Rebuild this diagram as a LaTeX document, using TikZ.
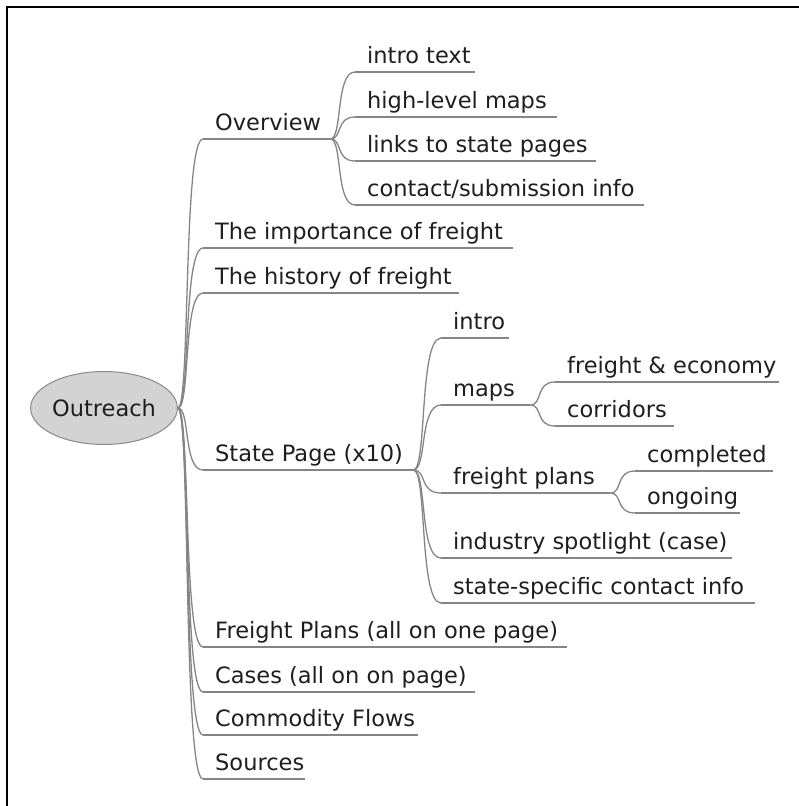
\documentclass[tikz,border=0pt]{standalone}
\usepackage{fontspec}
\setmainfont{DejaVu Sans}
\usetikzlibrary{calc,shapes.geometric}
\definecolor{edgegray}{HTML}{858585}
\definecolor{rootfill}{HTML}{D3D3D3}
\definecolor{rootline}{HTML}{8A8A8A}
\definecolor{txt}{HTML}{1E1E1E}
\newcommand{\mmbox}[2]{\makebox[#1pt][l]{\hspace*{12pt}#2}}
\newcommand{\mmlink}[2]{\draw[edge] let \p1=(#1), \p2=(#2) in (\p1) .. controls ({\x1+0.5*(\x2-\x1)},\y1) and ({\x1+0.2*(\x2-\x1)},\y2) .. (\p2);}
\begin{document}
\begin{tikzpicture}[x=1pt,y=-1pt,
  every node/.style={font=\fontsize{22.5}{27}\selectfont, text=txt},
  item/.style={anchor=south west, inner sep=0pt, text depth=8pt},
  edge/.style={draw=edgegray, line width=1.3pt},
  uline/.style={draw=edgegray, line width=1.3pt},
  rootnode/.style={ellipse, draw=rootline, fill=rootfill, line width=1pt, minimum width=130pt, minimum height=73pt, inner sep=0pt}]
\useasboundingbox (0,0) rectangle (799,806);
\draw[line width=2.2pt, black] (7,806) -- (7,7) -- (799,7);

\node[rootnode] (root) at (104,408) {Outreach};

% level 1
\node[item] (ov)    at (203,139) {\mmbox{127}{Overview}};
\node[item] (imp)   at (203,248) {\mmbox{310}{The importance of freight}};
\node[item] (hist)  at (203,293) {\mmbox{256}{The history of freight}};
\node[item] (sp)    at (203,470) {\mmbox{210}{State Page (x10)}};
\node[item] (fp)    at (203,647) {\mmbox{364}{Freight Plans (all on one page)}};
\node[item] (cases) at (203,692) {\mmbox{272}{Cases (all on on page)}};
\node[item] (cf)    at (203,735) {\mmbox{215}{Commodity Flows}};
\node[item] (src)   at (203,779) {\mmbox{102}{Sources}};

% overview children
\node[item] (ovA) at (355,72)  {\mmbox{120}{intro text}};
\node[item] (ovB) at (355,117) {\mmbox{202}{high-level maps}};
\node[item] (ovC) at (355,161) {\mmbox{241}{links to state pages}};
\node[item] (ovD) at (355,205) {\mmbox{289}{contact/submission info}};

% state page children
\node[item] (spA) at (441,338) {\mmbox{68}{intro}};
\node[item] (spB) at (441,405) {\mmbox{89}{maps}};
\node[item] (spC) at (441,493) {\mmbox{169}{freight plans}};
\node[item] (spD) at (441,558) {\mmbox{291}{industry spotlight (case)}};
\node[item] (spE) at (441,603) {\mmbox{314}{state-specific contact info}};

% maps children
\node[item] (mA) at (555,382) {\mmbox{224}{freight \& economy}};
\node[item] (mB) at (555,426) {\mmbox{119}{corridors}};

% freight plans children
\node[item] (pA) at (635,471) {\mmbox{138}{completed}};
\node[item] (pB) at (635,513) {\mmbox{105}{ongoing}};

% underlines
\foreach \nd in {ov,imp,hist,sp,fp,cases,cf,src,ovA,ovB,ovC,ovD,spA,spB,spC,spD,spE,mA,mB,pA,pB}
  \draw[uline] (\nd.south west) -- (\nd.south east);

% connectors
\foreach \nd in {ov,imp,hist,sp,fp,cases,cf,src} {\mmlink{root.east}{\nd.south west}}
\foreach \nd in {ovA,ovB,ovC,ovD} {\mmlink{ov.south east}{\nd.south west}}
\foreach \nd in {spA,spB,spC,spD,spE} {\mmlink{sp.south east}{\nd.south west}}
\foreach \nd in {mA,mB} {\mmlink{spB.south east}{\nd.south west}}
\foreach \nd in {pA,pB} {\mmlink{spC.south east}{\nd.south west}}
\end{tikzpicture}
\end{document}
